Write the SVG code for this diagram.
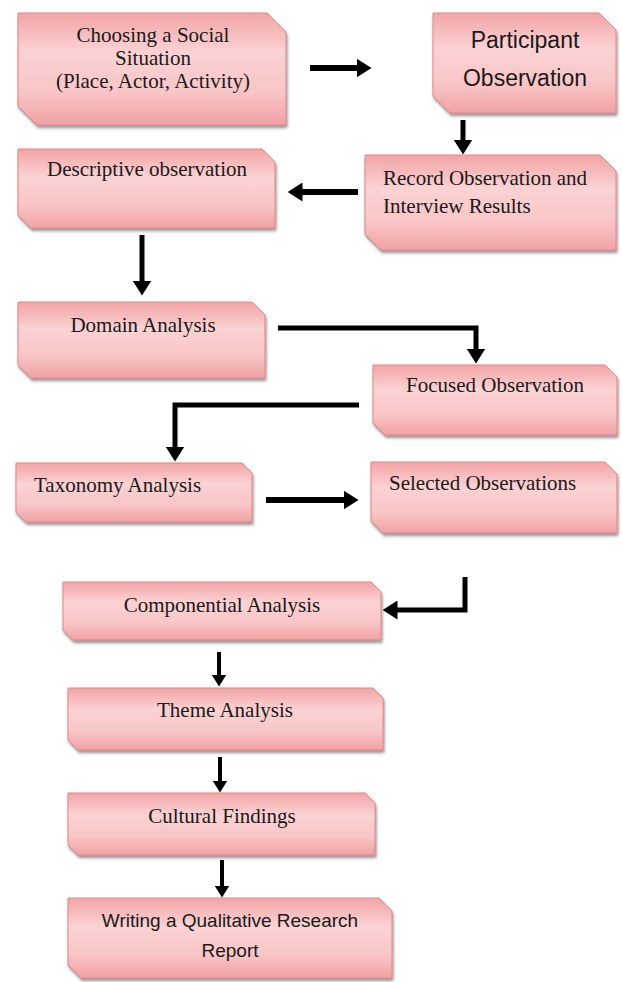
<svg xmlns="http://www.w3.org/2000/svg" width="622" height="982" viewBox="0 0 622 982">
<style>
.box{fill:url(#pink);stroke:#e3878a;stroke-width:1;filter:url(#sh)}
.t{font-family:"Liberation Serif","Times New Roman",serif;font-size:21px;fill:#1a1a1a}
.s{font-family:"Liberation Sans",Arial,sans-serif;fill:#1a1a1a}
.c{text-anchor:middle}
.a{fill:none;stroke:#000;stroke-linejoin:miter}
.w6{stroke-width:6}
.w5{stroke-width:5}
.w4{stroke-width:4}
</style>
<defs>
<linearGradient id="pink" x1="0" y1="0" x2="0" y2="1">
<stop offset="0" stop-color="#f2a4a6"/>
<stop offset="0.35" stop-color="#fbd2d3"/>
<stop offset="0.7" stop-color="#f9c6c7"/>
<stop offset="1" stop-color="#f1a1a4"/>
</linearGradient>
<filter id="sh" x="-5%" y="-10%" width="115%" height="130%">
<feDropShadow dx="1" dy="2.5" stdDeviation="1.5" flood-color="#4a4a4a" flood-opacity="0.6"/>
</filter>
<marker id="hL" markerUnits="userSpaceOnUse" markerWidth="15" markerHeight="19" viewBox="0 0 15 19" refX="0.5" refY="9.5" orient="auto">
<path d="M0,0 L15,9.5 L0,19 Z" fill="#000"/>
</marker>
<marker id="hS" markerUnits="userSpaceOnUse" markerWidth="12" markerHeight="15" viewBox="0 0 12 15" refX="0.5" refY="7.5" orient="auto">
<path d="M0,0 L12,7.5 L0,15 Z" fill="#000"/>
</marker>
</defs>

<g id="connectors">
<path class="a w6" d="M310,68 H357" marker-end="url(#hL)"/>
<path class="a w5" d="M463,120 V140" marker-end="url(#hL)"/>
<path class="a w6" d="M358,192 H302" marker-end="url(#hL)"/>
<path class="a w5" d="M142,235 V281" marker-end="url(#hL)"/>
<path class="a w5" d="M278,328 H476 V349" marker-end="url(#hL)"/>
<path class="a w5" d="M359,405 H175 V447" marker-end="url(#hL)"/>
<path class="a w6" d="M266,500 H344" marker-end="url(#hL)"/>
<path class="a w5" d="M465,577 V610 H397" marker-end="url(#hL)"/>
<path class="a w4" d="M219,652 V675" marker-end="url(#hS)"/>
<path class="a w4" d="M220,757 V781" marker-end="url(#hS)"/>
<path class="a w4" d="M222,860 V886" marker-end="url(#hS)"/>
</g>

<g id="choosing">
<path class="box" d="M18,13 H267 L286,32 V125 H37 L18,106 Z"/>
<text class="t c" x="153" y="42">Choosing a Social</text>
<text class="t c" x="153" y="65">Situation</text>
<text class="t c" x="153" y="88">(Place, Actor, Activity)</text>
</g>

<g id="participant">
<path class="box" d="M433,13 H599 L616,30 V113 H450 L433,96 Z"/>
<text class="s c" font-size="23" x="525" y="48">Participant</text>
<text class="s c" font-size="23" x="525" y="86">Observation</text>
</g>

<g id="record">
<path class="box" d="M365,155 H600 L616,171 V250 H381 L365,234 Z"/>
<text class="t" x="383" y="185">Record Observation and</text>
<text class="t" x="383" y="213">Interview Results</text>
</g>

<g id="descriptive">
<path class="box" d="M18,149 H262 L275,162 V228 H31 L18,215 Z"/>
<text class="t c" x="147" y="176">Descriptive observation</text>
</g>

<g id="domain">
<path class="box" d="M18,302 H252 L265,315 V378 H31 L18,365 Z"/>
<text class="t c" x="143" y="332">Domain Analysis</text>
</g>

<g id="focused">
<path class="box" d="M373,365 H605 L617,377 V435 H385 L373,423 Z"/>
<text class="t c" x="495" y="392">Focused Observation</text>
</g>

<g id="taxonomy">
<path class="box" d="M16,463 H242 L252,473 V522 H26 L16,512 Z"/>
<text class="t" x="34" y="492">Taxonomy Analysis</text>
</g>

<g id="selected">
<path class="box" d="M371,462 H605 L617,474 V533 H383 L371,521 Z"/>
<text class="t" x="389" y="490">Selected Observations</text>
</g>

<g id="componential">
<path class="box" d="M63,582 H371 L381,592 V640 H73 L63,630 Z"/>
<text class="t c" x="222" y="612">Componential Analysis</text>
</g>

<g id="theme">
<path class="box" d="M68,688 H373 L383,698 V750 H78 L68,740 Z"/>
<text class="t c" x="225" y="717">Theme Analysis</text>
</g>

<g id="cultural">
<path class="box" d="M68,793 H365 L375,803 V855 H78 L68,845 Z"/>
<text class="t c" x="222" y="823">Cultural Findings</text>
</g>

<g id="writing">
<path class="box" d="M68,898 H379 L392,911 V978 H81 L68,965 Z"/>
<text class="s c" font-size="19" x="230" y="927">Writing a Qualitative Research</text>
<text class="s c" font-size="19" x="230" y="957">Report</text>
</g>
</svg>
